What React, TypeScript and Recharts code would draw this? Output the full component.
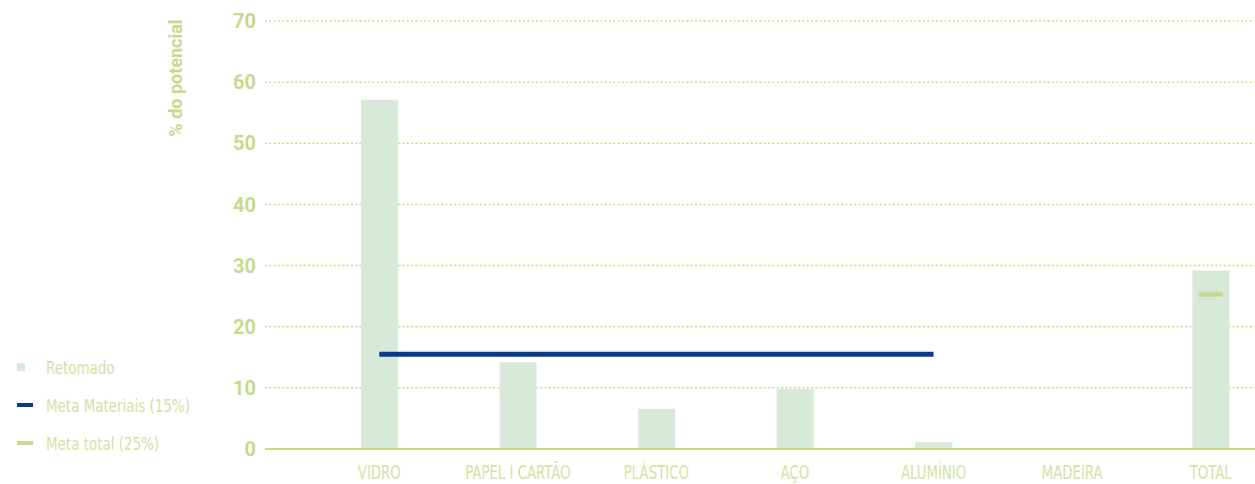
import React from 'react';
import {
  ComposedChart,
  Bar,
  Line,
  XAxis,
  YAxis,
  CartesianGrid,
} from 'recharts';

const categories = ['VIDRO', 'PAPEL I CARTÃO', 'PLÁSTICO', 'AÇO', 'ALUMÍNIO', 'MADEIRA', 'TOTAL'];
const retomado = [57.1, 14.2, 6.6, 9.8, 1.1, 0, 29.2];
const metaMateriais = [15.5, 15.5, 15.5, 15.5, 15.5, null, null];
const metaTotal = [null, null, null, null, null, null, 25.3];
const yTicks = [0, 10, 20, 30, 40, 50, 60, 70];

const data = categories.map((name, i) => ({
  name,
  retomado: retomado[i],
  metaMateriais: metaMateriais[i],
  metaTotal: metaTotal[i],
}));

const GREEN = '#c7d98d';
const LIGHT_TEXT = '#d2e2a4';
const BAR = '#d7e9d9';
const BLUE = '#0b3b86';
const NARROW = '"Liberation Sans Narrow", "DejaVu Sans Condensed", "Liberation Sans", sans-serif';

const TotalDash = (props: any) => {
  const { cx, cy } = props;
  if (cx == null || cy == null) return null;
  return <rect x={cx - 12} y={cy - 2.5} width={24} height={5} fill={GREEN} />;
};

// condensed category label
const CatTick = (props: any) => {
  const { x, y, payload } = props;
  return (
    <g transform={`translate(${x},${y})`}>
      <text
        transform="scale(0.78,1)"
        x={0}
        y={0}
        dy="0.71em"
        textAnchor="middle"
        fill={LIGHT_TEXT}
        fontSize={19}
        fontFamily={NARROW}
      >
        {payload.value}
      </text>
    </g>
  );
};

const legendItems = [
  { label: 'Retomado', kind: 'square', color: BAR },
  { label: 'Meta Materiais (15%)', kind: 'line', color: BLUE },
  { label: 'Meta total (25%)', kind: 'line', color: GREEN },
];

export default function App() {
  return (
    <div style={{ position: 'absolute', left: 0, top: 0, width: 1255, height: 484, overflow: 'hidden', background: '#fff' }}>
      <ComposedChart
        width={1280}
        height={484}
        data={data}
        margin={{ top: 21, right: 0, left: 0, bottom: 0 }}
      >
        <CartesianGrid horizontal vertical={false} stroke={GREEN} strokeDasharray="2 2.3" strokeWidth={1.5} />
        <XAxis
          dataKey="name"
          height={35}
          padding={{ left: 45, right: 0 }}
          axisLine={{ stroke: GREEN, strokeWidth: 2 }}
          tickLine={false}
          tickSize={0}
          tickMargin={16}
          interval={0}
          tick={<CatTick />}
        />
        <YAxis
          domain={[0, 70]}
          ticks={yTicks}
          width={265}
          axisLine={false}
          tickLine={false}
          tickSize={0}
          tickMargin={9}
          tick={{ fill: GREEN, fontSize: 20, fontWeight: 700, fontFamily: 'Roboto, sans-serif' }}
          label={{
            content: () => (
              <text
                x={182}
                y={78}
                transform="rotate(-90 182 78)"
                textAnchor="middle"
                fill={GREEN}
                style={{ fontSize: 18, fontWeight: 700, fontFamily: 'Roboto, sans-serif' }}
              >
                % do potencial
              </text>
            ),
          }}
        />
        <Bar dataKey="retomado" fill={BAR} barSize={37} isAnimationActive={false} />
        <Line
          dataKey="metaMateriais"
          stroke={BLUE}
          strokeWidth={5}
          dot={false}
          activeDot={false}
          isAnimationActive={false}
        />
        <Line
          dataKey="metaTotal"
          stroke="none"
          dot={<TotalDash />}
          activeDot={false}
          isAnimationActive={false}
        />
      </ComposedChart>
      <div style={{ position: 'absolute', left: 17, top: 348, fontFamily: NARROW, fontSize: 18, color: LIGHT_TEXT }}>
        {legendItems.map((it) => (
          <div key={it.label} style={{ display: 'flex', alignItems: 'center', height: 38 }}>
            {it.kind === 'square' ? (
              <div style={{ width: 8, height: 8, background: it.color, marginRight: 21 }} />
            ) : (
              <div style={{ width: 16, height: 4, background: it.color, marginRight: 13 }} />
            )}
            <span style={{ display: 'inline-block', transform: 'scaleX(0.83)', transformOrigin: 'left center', whiteSpace: 'nowrap' }}>
              {it.label}
            </span>
          </div>
        ))}
      </div>
    </div>
  );
}
